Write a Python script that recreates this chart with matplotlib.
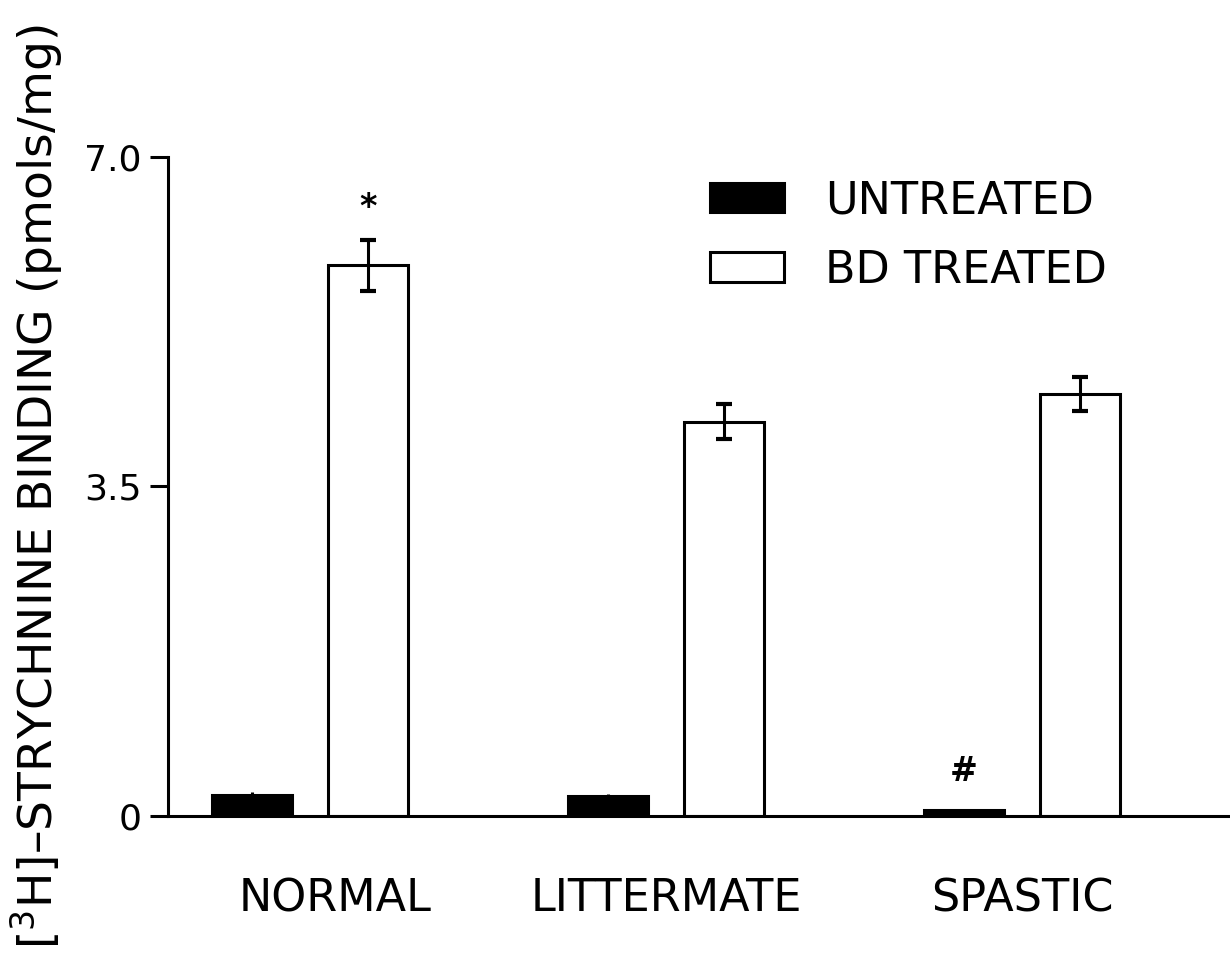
#!/usr/bin/env python
"""[3H]-strychnine binding in untreated vs BD-treated preparations."""
import matplotlib
matplotlib.use("Agg")
import matplotlib.pyplot as plt
import matplotlib.transforms as mtransforms
from matplotlib.patches import Patch
import numpy as np

GROUPS = ["NORMAL", "LITTERMATE", "SPASTIC"]
UNTREATED = [0.22, 0.21, 0.06]
UNTREATED_ERR = [0.03, 0.02, 0.01]
BD_TREATED = [5.85, 4.19, 4.48]
BD_TREATED_ERR = [0.27, 0.19, 0.18]
Y_TICKS = [0, 3.5, 7.0]
Y_TICK_LABELS = ["0", "3.5", "7.0"]
# significance marks: (group index, series, symbol)
MARKS = [(0, "bd", "*"), (2, "untreated", "#")]

plt.rcParams["font.family"] = ["DejaVu Sans"]

fig = plt.figure(figsize=(12.3, 9.58), dpi=100)
ax = fig.add_axes([0.1366, 0.1482, 0.8634, 0.688])

x = np.arange(len(GROUPS))
offset = 0.163
width = 0.225
lw = 2.2

ax.bar(x - offset, UNTREATED, width, color="black", edgecolor="black",
       linewidth=lw, zorder=2)
ax.bar(x + offset, BD_TREATED, width, color="white", edgecolor="black",
       linewidth=lw, zorder=2)
ax.errorbar(x - offset, UNTREATED, yerr=UNTREATED_ERR, fmt="none",
            ecolor="black", elinewidth=2.2, capsize=0, zorder=3)
ax.errorbar(x + offset, BD_TREATED, yerr=BD_TREATED_ERR, fmt="none",
            ecolor="black", elinewidth=2.2, capsize=5.5, capthick=3,
            zorder=3)

for gi, series, sym in MARKS:
    if series == "bd":
        xm, top, dy = x[gi] + offset, BD_TREATED[gi] + BD_TREATED_ERR[gi], 23
    else:
        xm, top, dy = x[gi] - offset, UNTREATED[gi], 28
    ax.annotate(sym, (xm, top), xytext=(0, dy), textcoords="offset points",
                ha="center", va="center", fontsize=24, fontweight="bold")

ax.set_xlim(-0.399, 2.584)
ax.set_ylim(0, 7.0)
ax.set_yticks(Y_TICKS)
ax.set_yticklabels(Y_TICK_LABELS, fontsize=26)
ax.set_xticks(x)
ax.set_xticklabels(GROUPS, fontsize=32)
ax.tick_params(axis="x", length=0, pad=44)
ax.tick_params(axis="y", length=13, width=2.2, pad=6)

# the NORMAL label sits a little right of its group
shift = mtransforms.ScaledTranslation(0.25, 0, fig.dpi_scale_trans)
first = ax.get_xticklabels()[0]
first.set_transform(first.get_transform() + shift)

for side in ("top", "right"):
    ax.spines[side].set_visible(False)
for side in ("left", "bottom"):
    ax.spines[side].set_linewidth(2.2)
ax.spines["bottom"].set_clip_on(False)

ax.set_ylabel(r"[$^3$H]–STRYCHNINE BINDING (pmols/mg)", fontsize=34,
              labelpad=14)

handles = [Patch(facecolor="black", edgecolor="black", linewidth=lw),
           Patch(facecolor="white", edgecolor="black", linewidth=lw)]
ax.legend(handles, ["UNTREATED", "BD TREATED"], loc="upper left",
          bbox_to_anchor=(0.494, 0.993), frameon=False, fontsize=32,
          handlelength=1.65, handleheight=0.64, handletextpad=0.93,
          labelspacing=0.59, borderaxespad=0)

fig.savefig("out.png", dpi=100)
